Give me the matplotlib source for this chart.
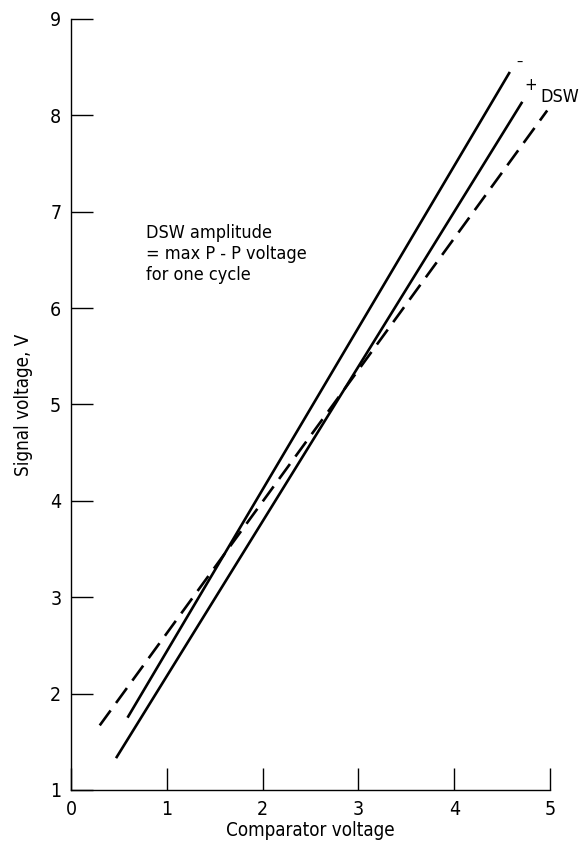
import matplotlib.pyplot as plt

plt.rcParams['font.family'] = ['DejaVu Sans']
plt.rcParams['font.stretch'] = 'condensed'

# Endpoints of each response line (comparator voltage, signal voltage)
minus_x = [0.59, 4.58]
minus_y = [1.75, 8.45]
plus_x = [0.47, 4.71]
plus_y = [1.33, 8.14]
dsw_x = [0.30, 4.97]
dsw_y = [1.67, 8.05]

x_ticks = [0, 1, 2, 3, 4, 5]
y_ticks = [1, 2, 3, 4, 5, 6, 7, 8, 9]

fig = plt.figure(figsize=(5.8, 8.42), dpi=100)
ax = fig.add_axes([0.1224, 0.0618, 0.826, 0.9157])

ax.plot(minus_x, minus_y, color='black', lw=1.9, solid_capstyle='butt')
ax.plot(plus_x, plus_y, color='black', lw=1.9, solid_capstyle='butt')
ax.plot(dsw_x, dsw_y, color='black', lw=1.9, dashes=(7, 3.5))

# Line tags at the upper ends
ax.text(4.68, 8.54, '\u2013', fontsize=10, ha='center', va='center')
ax.text(4.80, 8.31, '+', fontsize=12, ha='center', va='center')
ax.text(4.90, 8.19, 'DSW', fontsize=13, ha='left', va='center')

ax.text(0.78, 6.87, 'DSW amplitude\n= max P - P voltage\nfor one cycle',
        fontsize=13, ha='left', va='top', linespacing=1.2)

ax.set_xlim(0, 5)
ax.set_ylim(1, 9)
ax.set_xticks(x_ticks)
ax.set_yticks(y_ticks)
ax.tick_params(direction='in', length=16, width=1.0, labelsize=14, pad=7)
ax.spines['top'].set_visible(False)
ax.spines['right'].set_visible(False)
for s in ('left', 'bottom'):
    ax.spines[s].set_linewidth(1.0)
ax.patch.set_visible(False)

ax.set_xlabel('Comparator voltage', fontsize=13.5, labelpad=2)
ax.set_ylabel('Signal voltage, V', fontsize=13.5, labelpad=12)

fig.savefig('out.png', dpi=100)
